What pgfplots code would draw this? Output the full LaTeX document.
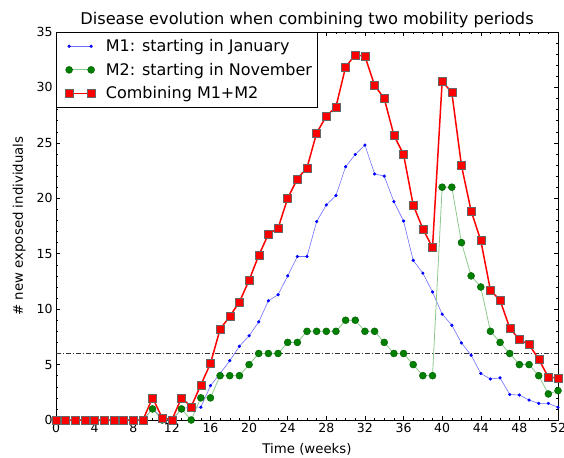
\documentclass[border=0pt]{standalone}
\usepackage{pgfplots}
\usepackage{pgfplotstable}
\pgfplotsset{compat=1.18}
\usepackage{fontspec}
\setmainfont{DejaVu Sans}
\pgfplotstableread{
week m1 m2 comb
0 0 0 0
1 0 0 0
2 0 0 0
3 0 0 0
4 0 0 0
5 0 0 0
6 0 0 0
7 0 0 0
8 0 0 0
9 0 0 0
10 1.0 1 2.0
11 0.2 0 0.2
12 0 0 0
13 1.0 1 2.0
14 1.2 0 1.2
15 1.15 2 3.15
16 3.1 2 5.1
17 4.2 4 8.2
18 5.35 4 9.35
19 6.65 4 10.65
20 7.6 5 12.6
21 8.85 6 14.85
22 10.75 6 16.75
23 11.3 6 17.3
24 13.0 7 20.0
25 14.75 7 21.75
26 14.75 8 22.75
27 17.9 8 25.9
28 19.4 8 27.4
29 20.25 8 28.25
30 22.85 9 31.85
31 23.95 9 32.95
32 24.8 8 32.8
33 22.2 8 30.2
34 22.0 7 29.0
35 19.7 6 25.7
36 17.95 6 23.95
37 14.4 5 19.4
38 13.25 4 17.25
39 11.55 4 15.55
40 9.55 21 30.55
41 8.55 21 29.55
42 6.95 16 22.95
43 5.85 13 18.85
44 4.2 12 16.2
45 3.7 8 11.7
46 3.8 7 10.8
47 2.3 6 8.3
48 2.25 5 7.25
49 1.8 5 6.8
50 1.5 4 5.5
51 1.5 2.35 3.85
52 1.15 2.65 3.8
}\datatable
\pgfplotstableread{
x y
0 6
52 6
}\thresh
\definecolor{mgreen}{RGB}{0,128,0}
\definecolor{lgreen}{RGB}{140,200,140}
\definecolor{lblue}{RGB}{110,110,255}
\begin{document}
\begin{tikzpicture}
\begin{axis}[
  scale only axis,
  width=502bp, height=388bp,
  xmin=0, xmax=52, ymin=0, ymax=35,
  xtick={0,4,...,52}, ytick={0,5,...,35},
  minor x tick num=3, minor y tick num=4,
  tick align=inside,
  major tick length=4bp, minor tick length=2bp,
  tick style={black, line width=0.5pt},
  axis line style={black, line width=0.8pt},
  /pgf/number format/assume math mode=true,
  ticklabel style={font=\fontsize{12.5bp}{14bp}\selectfont},
  xlabel={Time (weeks)}, ylabel={\# new exposed individuals},
  label style={font=\fontsize{13.3bp}{15bp}\selectfont},
  xlabel style={yshift=-4bp},
  ylabel style={yshift=4bp},
  title={Disease evolution when combining two mobility periods},
  title style={font=\fontsize{16.2bp}{18bp}\selectfont, yshift=-5bp},
  legend style={at={(0,1)}, anchor=north west, draw=black, line width=0.8pt,
    font=\fontsize{16bp}{18bp}\selectfont, inner xsep=3bp, inner ysep=5bp, row sep=6bp,
    cells={anchor=west}},
  legend image code/.code={\path (0bp,0bp) (43bp,0bp);
    \draw[mark repeat=2,mark phase=1] plot coordinates {(9bp,0bp) (20bp,0bp) (31bp,0bp)};},
]
\addplot[black!80, line width=0.8pt, dash pattern=on 5pt off 2pt on 1pt off 2pt, forget plot] table[x=x,y=y] {\thresh};
\addplot[lblue, line width=0.6pt, mark=*, mark size=1.3bp, mark options={blue, draw=blue, fill=blue}] table[x=week,y=m1] {\datatable};
\addlegendentry{M1: starting in January}
\addplot[lgreen, line width=0.8pt, mark=*, mark size=3.5bp, mark options={draw=mgreen!70!black, fill=mgreen, line width=0.4pt}] table[x=week,y=m2] {\datatable};
\addlegendentry{M2: starting in November}
\addplot[red, line width=1.5pt, mark=square*, mark size=4bp, mark options={draw=black!60, fill=red, line width=0.4pt}] table[x=week,y=comb] {\datatable};
\addlegendentry{Combining M1+M2}
\coordinate (bl) at (rel axis cs:0,0);
\coordinate (tr) at (rel axis cs:1,1);
\end{axis}
\pgfresetboundingbox
\path[use as bounding box] ([shift={(-56bp,-37bp)}]bl) rectangle ([shift={(6bp,32bp)}]tr);
\end{tikzpicture}
\end{document}
